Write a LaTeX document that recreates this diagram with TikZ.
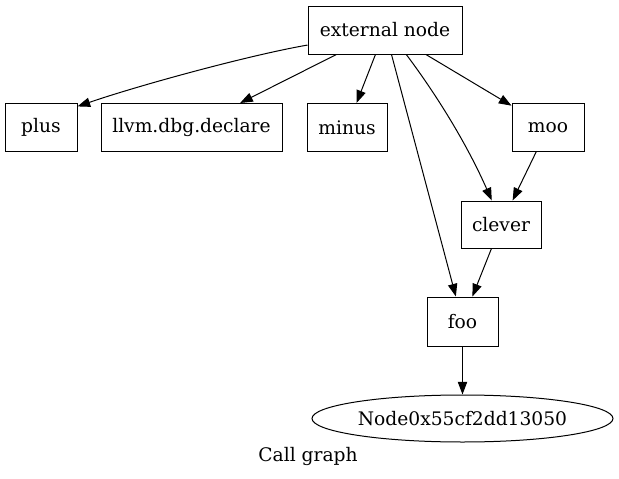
\documentclass[tikz,border=0pt]{standalone}
\usepackage{fontspec}
\setmainfont{DejaVu Serif}
\usetikzlibrary{shapes.geometric,arrows.meta}
\begin{document}
\begin{tikzpicture}[x=0.75pt,y=-0.75pt,font=\fontsize{14}{17}\selectfont,
    fn/.style={draw,line width=0.75pt,inner sep=0pt,minimum height=36pt},
    call/.style={-{Triangle[length=9.5pt,width=7pt]},line width=0.75pt}]
    \useasboundingbox (0,0) rectangle (619,479);
    \node[fn,minimum width=115.5pt] (ext) at (385,30) {external node};
    \node[fn,minimum width=54pt] (plus) at (41,127.5) {plus};
    \node[fn,minimum width=135.75pt] (llvm) at (191.5,127.5) {llvm.dbg.declare};
    \node[fn,minimum width=60pt] (minus) at (347,127.5) {minus};
    \node[fn,minimum width=54pt] (moo) at (548,127.5) {moo};
    \node[fn,minimum width=60pt,minimum height=35.25pt] (clever) at (501,224.5) {clever};
    \node[fn,minimum width=53.25pt,minimum height=36.75pt] (foo) at (462.5,321.5) {foo};
    \node[fn,ellipse,minimum width=225.75pt,minimum height=35.25pt] (n0) at (462.5,418.5) {Node0x55cf2dd13050};
    \node (caption) at (308,456) {Call graph};
    \draw[call] (ext.191) .. controls (250,55) and (140,85) .. (plus.30);
    \draw[call] (ext) -- (llvm);
    \draw[call] (ext) -- (minus);
    \draw[call] (ext) -- (moo);
    \draw[call] (ext.311) .. controls (440,99.5) and (468.7,148) .. (clever.111);
    \draw[call] (ext) -- (foo);
    \draw[call] (moo) -- (clever);
    \draw[call] (clever) -- (foo);
    \draw[call] (foo) -- (n0);
\end{tikzpicture}
\end{document}
